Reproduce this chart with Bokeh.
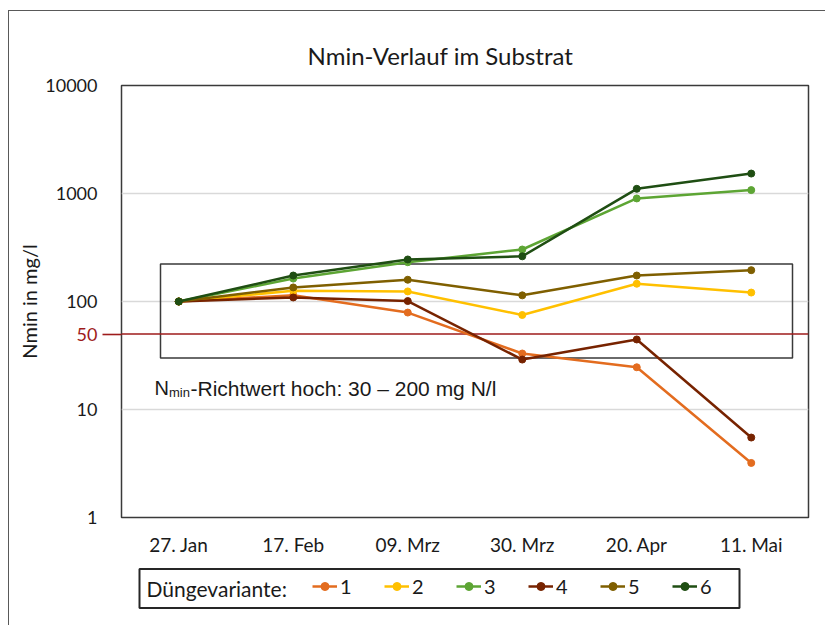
from bokeh.plotting import figure
from bokeh.layouts import column
from bokeh.models import (FactorRange, FixedTicker, PrintfTickFormatter, Legend, LegendItem,
                          Label, BoxAnnotation, Span, ColumnDataSource, LogAxis, Range1d)
from bokeh.embed import file_html
from bokeh.resources import INLINE

# ---------------- data ----------------
dates = ["27. Jan", "17. Feb", "09. Mrz", "30. Mrz", "20. Apr", "11. Mai"]
v1 = [100, 114, 79, 33, 24.6, 3.2]
v2 = [100, 126, 124, 75, 146, 121]
v3 = [100, 163, 231, 303, 900, 1075]
v4 = [100, 109, 101, 29, 44.5, 5.5]
v5 = [100, 135, 159, 114, 174, 195]
v6 = [100, 174, 245, 262, 1105, 1530]
series_names = ["1", "2", "3", "4", "5", "6"]
y_ticks = [1, 10, 100, 1000, 10000]
threshold = 50
richtwert_low, richtwert_high = 30, 222
title_text = "Nmin-Verlauf im Substrat"
y_label = "Nmin in mg/l"
legend_title = "Düngevariante:"

# ---------------- style ----------------
colors = ["#E36C1F", "#FFC000", "#5DA534", "#772300", "#7F5F00", "#1F4E13"]
RED = "#9E1B1B"
TXT = "#1a1a1a"
FONT = "Lato"
ARIAL = "Liberation Sans"

# page-pixel geometry
FL, FR, FT, FB = 121, 808, 86, 518     # plot frame
OX, OY = 9.5, 11.5                     # page position of the first child (margin + border)
MBL, MBT, MBR = 112, 74, 17
W = MBL + (FR - FL) + MBR
H = 565 - 11
MBB = H - MBT - (FB - FT)


def xd(px):
    return (px - FL) / (FR - FL) * len(dates)


def yd(py):
    return 10 ** ((FB - py) / (FB - FT) * 4)


p = figure(x_range=FactorRange(*dates), y_axis_type="log", y_range=(1, 10000),
           width=W, height=H, output_backend="svg", toolbar_location=None,
           min_border_left=MBL, min_border_top=MBT, min_border_right=MBR, min_border_bottom=MBB,
           background_fill_color="white", border_fill_color="white")

p.title.text = title_text
p.title.align = "left"
p.title.offset = 186
p.title.text_font = FONT
p.title.text_font_size = "24px"
p.title.text_font_style = "normal"
p.title.text_color = TXT
p.title.standoff = 31

p.outline_line_color = "#3a3a3a"
p.outline_line_width = 1.5
p.xgrid.grid_line_color = None
p.ygrid.grid_line_color = "#D9D9D9"
p.ygrid.grid_line_width = 1.5
p.ygrid.ticker = FixedTicker(ticks=y_ticks)

main_y = p.yaxis[0]
xax = p.xaxis[0]
main_y.ticker = FixedTicker(ticks=y_ticks)
main_y.formatter = PrintfTickFormatter(format="%d")
for ax in (xax, main_y):
    ax.axis_line_color = None
    ax.major_tick_line_color = None
    ax.minor_tick_line_color = None
    ax.major_tick_out = 0
    ax.major_tick_in = 0
    ax.minor_tick_out = 0
    ax.major_label_text_font = FONT
    ax.major_label_text_color = TXT
xax.major_label_text_font_size = "19px"
xax.major_label_standoff = 15

# inner left axis carrying the red threshold tick (extends the threshold line outside the frame)
ax50 = LogAxis(ticker=FixedTicker(ticks=[threshold]), formatter=PrintfTickFormatter(format="%d"),
               axis_line_color=None, major_tick_line_color=RED, major_tick_line_width=1.6,
               major_tick_out=19, major_tick_in=0, minor_tick_line_color=None,
               minor_tick_out=0, major_label_standoff=5, major_label_text_color=RED,
               major_label_text_font=FONT, major_label_text_font_size="18px")

main_y.major_label_text_font_size = "18px"
main_y.major_label_standoff = -24
main_y.axis_label = y_label
main_y.axis_label_text_font = FONT
main_y.axis_label_text_font_size = "20px"
main_y.axis_label_text_font_style = "normal"
main_y.axis_label_text_color = TXT
main_y.axis_label_standoff = 1
p.left = [ax50, main_y]

# Richtwert box
p.add_layout(BoxAnnotation(left=xd(160), right=xd(792), bottom=richtwert_low, top=richtwert_high,
                           fill_alpha=0, line_color="#3a3a3a", line_alpha=1, line_width=1.5,
                           level="underlay"))
# threshold line
p.add_layout(Span(location=threshold, dimension="width", line_color=RED, line_width=1.6,
                  level="underlay"))

series = [v1, v2, v3, v4, v5, v6]
for name, vals, c in zip(series_names, series, colors):
    src = ColumnDataSource(dict(x=dates, y=vals))
    p.line("x", "y", source=src, line_color=c, line_width=2.5)
    p.scatter("x", "y", source=src, size=7, marker="circle", fill_color=c, line_color=c)

# N_min annotation
base = yd(388.5)
p.add_layout(Label(x=xd(154), y=base, text="N", text_baseline="alphabetic", text_color=TXT,
                   text_font=ARIAL, text_font_size="20px"))
p.add_layout(Label(x=xd(168.5), y=base, y_offset=-4, text="min", text_baseline="alphabetic",
                   text_color=TXT, text_font=ARIAL, text_font_size="13px"))
p.add_layout(Label(x=xd(190), y=base, text="-Richtwert hoch: 30 – 200 mg N/l",
                   text_baseline="alphabetic", text_color=TXT, text_font=ARIAL,
                   text_font_size="21px"))

# ---------------- legend strip (second figure, data units = page pixels) ----------------
LB_L, LB_R, LB_T, LB_B = 139, 739, 569, 608
S_TOP = OY + H
S_H = 60
S_BOT = S_TOP + S_H
p2 = figure(width=W, height=S_H, x_range=Range1d(FL, FR), y_range=Range1d(S_BOT, S_TOP),
            x_axis_type=None, y_axis_type=None, output_backend="svg", toolbar_location=None,
            min_border_left=MBL, min_border_right=MBR, min_border_top=0, min_border_bottom=0,
            background_fill_color="white", border_fill_color="white")
p2.outline_line_color = None
p2.xgrid.grid_line_color = None
p2.ygrid.grid_line_color = None

p2.add_layout(BoxAnnotation(left=LB_L, right=LB_R, top=LB_T, bottom=LB_B, fill_alpha=0,
                            line_color="#262626", line_alpha=1, line_width=2))

# legend proxies: one hidden point each (outside the strip's visible range)
items = []
for name, c in zip(series_names, colors):
    psrc = ColumnDataSource(dict(x=[FL - 500], y=[S_BOT + 500]))
    lr = p2.line("x", "y", source=psrc, line_color=c, line_width=2.5)
    sr = p2.scatter("x", "y", source=psrc, size=6, marker="circle", fill_color=c, line_color=c)
    items.append(LegendItem(label=name, renderers=[lr, sr]))

leg_mid = (LB_T + LB_B) / 2
legend = Legend(items=items, orientation="horizontal",
                location=(int(312 - FL), int(round(S_BOT - leg_mid - 10))),
                border_line_alpha=0, background_fill_alpha=0, padding=0, margin=0,
                spacing=24, glyph_width=25, glyph_height=20, label_height=20, label_width=20,
                label_standoff=3, label_text_font=FONT, label_text_font_size="20px",
                label_text_color=TXT)
p2.add_layout(legend)
p2.add_layout(Label(x=146, y=leg_mid, text=legend_title, text_baseline="middle",
                    text_color=TXT, text_font=FONT, text_font_size="21px"))

layout = column(p, p2, margin=(10, 0, 0, 8),
                styles={"border-left": "1.5px solid #595959", "border-top": "1.5px solid #595959"})

open("out.html", "w").write(file_html(layout, INLINE))
